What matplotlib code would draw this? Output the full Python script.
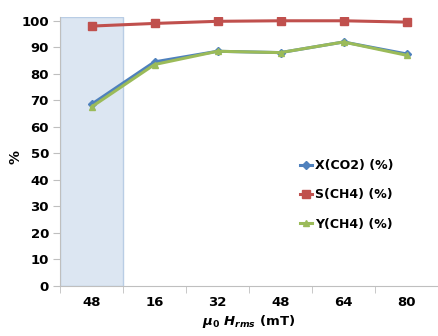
import numpy as np
import matplotlib.pyplot as plt

plt.rcParams['font.family'] = 'DejaVu Sans'
plt.rcParams['mathtext.fontset'] = 'custom'
plt.rcParams['mathtext.it'] = 'DejaVu Sans:italic:bold'
plt.rcParams['mathtext.rm'] = 'DejaVu Sans:bold'

# данные
field = ['48', '16', '32', '48', '64', '80']
x_co2 = [68.5, 84.5, 88.5, 88.0, 92.0, 87.5]
s_ch4 = [98.0, 99.0, 99.8, 100.0, 100.0, 99.5]
y_ch4 = [67.5, 83.5, 88.5, 88.0, 92.0, 87.0]

blue = '#4F81BD'
red = '#C0504D'
green = '#9BBB59'

fig = plt.figure(figsize=(4.38, 3.36), dpi=100)
ax = fig.add_axes([0.137, 0.149, 0.863, 0.801])

pos = np.arange(len(field))

# закрашенная область первой категории
ax.axvspan(-0.5, 0.5, ymin=0, ymax=1, facecolor='#DCE6F2', edgecolor='#B9CDE5', lw=1, zorder=0)

ax.plot(pos, x_co2, '-D', color=blue, lw=2.2, ms=4, label='X(CO2) (%)', zorder=3)
ax.plot(pos, s_ch4, '-s', color=red, lw=2.2, ms=6, label='S(CH4) (%)', zorder=3)
ax.plot(pos, y_ch4, '-^', color=green, lw=2.2, ms=5, label='Y(CH4) (%)', zorder=3)

ax.set_xlim(-0.5, len(field) - 0.5)
ax.set_ylim(0, 101.5)
ax.set_yticks(np.arange(0, 101, 10))
ax.set_xticks(pos)
ax.set_xticklabels(field)
ax.set_xticks(np.arange(-0.5, len(field), 1), minor=True)
ax.tick_params(axis='x', which='major', length=0, pad=7)
ax.tick_params(axis='x', which='minor', length=5, color='#BFBFBF')
ax.tick_params(axis='y', length=5, color='#BFBFBF', pad=3)
for lab in ax.get_xticklabels() + ax.get_yticklabels():
    lab.set_fontweight('bold')
    lab.set_fontsize(9.5)

for s in ['top', 'right']:
    ax.spines[s].set_visible(False)
ax.spines['left'].set_color('#BFBFBF')
ax.spines['bottom'].set_color('#BFBFBF')

ax.set_ylabel('%', fontsize=10, fontweight='bold')
ax.yaxis.set_label_coords(-0.10, 0.48)
ax.set_xlabel(r'$\mu_0\ H_{rms}$ (mT)', fontsize=9.5, fontweight='bold', labelpad=3)

leg = ax.legend(loc='upper left', bbox_to_anchor=(0.605, 0.513), frameon=False,
                handlelength=1.0, handletextpad=0.2, labelspacing=1.3,
                prop={'weight': 'bold', 'size': 9})

plt.savefig('out.png', dpi=100)
